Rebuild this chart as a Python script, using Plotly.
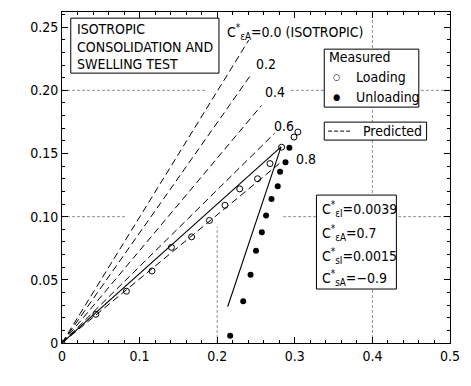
import plotly.graph_objects as go

# ---------------- data ----------------
load_x = [0.0, 0.0436, 0.083, 0.116, 0.141, 0.167, 0.190, 0.210, 0.229, 0.252, 0.268, 0.283, 0.299, 0.304]
load_y = [0.0, 0.0227, 0.041, 0.057, 0.0757, 0.084, 0.097, 0.109, 0.122, 0.130, 0.142, 0.155, 0.163, 0.167]

unload_x = [0.293, 0.288, 0.281, 0.278, 0.270, 0.263, 0.2575, 0.250, 0.243, 0.2335, 0.2167]
unload_y = [0.1545, 0.143, 0.1355, 0.124, 0.114, 0.101, 0.0876, 0.073, 0.054, 0.033, 0.0058]

# predicted (C*eA sensitivity) dashed lines: start at origin, end points
pred_labels = ["0.0", "0.2", "0.4", "0.6", "0.8"]
pred_end_x = [0.2406, 0.2446, 0.257, 0.274, 0.280]
pred_end_y = [0.2397, 0.2133, 0.188, 0.166, 0.142]

# predicted with chosen parameters (solid)
fit_load_x = [0.0, 0.2823]
fit_load_y = [0.0, 0.1553]
fit_unload_x = [0.2823, 0.2135]
fit_unload_y = [0.1553, 0.0287]

x_ticks = [0, 0.1, 0.2, 0.3, 0.4, 0.5]
x_ticktext = ["0", "0.1", "0.2", "0.3", "0.4", "0.5"]
y_ticks = [0, 0.05, 0.10, 0.15, 0.20, 0.25]
y_ticktext = ["0", "0.05", "0.10", "0.15", "0.20", "0.25"]

FONT = "DejaVu Sans Condensed, Liberation Sans Narrow, Arial Narrow, sans-serif"

# pixel -> data helpers (for decorations / text placement)
X0, XPX = 62.0, 796.0
Y0, YPX = 343.0, 1264.0
def dx(px):
    return (px - X0) / XPX
def dy(py):
    return (Y0 - py) / YPX

fig = go.Figure()

# dashed predicted lines
for i in range(len(pred_labels)):
    fig.add_trace(go.Scatter(x=[0, pred_end_x[i]], y=[0, pred_end_y[i]], mode="lines",
                             line=dict(color="black", width=1, dash="7px,4px"),
                             showlegend=False, hoverinfo="skip"))

# solid fitted lines
fig.add_trace(go.Scatter(x=fit_load_x, y=fit_load_y, mode="lines",
                         line=dict(color="black", width=1.1), showlegend=False))
fig.add_trace(go.Scatter(x=fit_unload_x, y=fit_unload_y, mode="lines",
                         line=dict(color="black", width=1.1), showlegend=False))

# measured
fig.add_trace(go.Scatter(x=load_x, y=load_y, mode="markers",
                         marker=dict(symbol="circle-open", size=6, color="black", line=dict(width=1)),
                         showlegend=False))
fig.add_trace(go.Scatter(x=unload_x, y=unload_y, mode="markers",
                         marker=dict(symbol="circle", size=6, color="black"),
                         showlegend=False))

shapes = []
# partial gray grid segments (as in the original figure)
grid_segs = [
    (0.0, 0.20, 0.185, 0.20), (0.295, 0.20, 0.5, 0.20),
    (0.0, 0.10, 0.083, 0.10), (0.285, 0.10, 0.5, 0.10),
    (0.2, 0.0, 0.2, 0.092), (0.4, 0.0, 0.4, 0.262),
]
for (a, b, c, d) in grid_segs:
    shapes.append(dict(type="line", xref="x", yref="y", x0=a, y0=b, x1=c, y1=d,
                       line=dict(color="#8f8f8f", width=1, dash="3px,2px"), layer="below"))

# boxes
def box(l, t, r, btm):
    shapes.append(dict(type="rect", xref="x", yref="y", x0=dx(l), x1=dx(r), y0=dy(btm), y1=dy(t),
                       line=dict(color="black", width=1), fillcolor="white", layer="above"))
box(71, 18, 223, 73)
box(331, 49, 428, 107)
box(331, 122, 436, 140)
box(323, 195, 405, 289)
# legend line sample for "Predicted"
shapes.append(dict(type="line", xref="x", yref="y", x0=dx(335), x1=dx(358), y0=dy(131), y1=dy(131),
                   line=dict(color="black", width=1, dash="4px,2px"), layer="above"))

ann = []
def text(px, py, s, size=14, xanchor="left", angle=0):
    ann.append(dict(x=dx(px), y=dy(py), xref="x", yref="y", text=s, showarrow=False,
                    xanchor=xanchor, yanchor="middle", textangle=angle,
                    font=dict(family=FONT, size=size, color="black")))

text(75, 29, "ISOTROPIC")
text(75, 47, "CONSOLIDATION AND")
text(75, 64, "SWELLING TEST")

text(229, 32, "C<sup>*</sup><sub>εA</sub>=0.0 (ISOTROPIC)", size=14)
label_px = [(259, 64), (268, 92), (277, 126), (300, 159)]
for (px, py), lab in zip(label_px, pred_labels[1:]):
    text(px, py, lab)

text(334, 57, "Measured")
text(338, 77, "○", size=9)
text(362, 77, "Loading")
text(338, 97, "●", size=9)
text(362, 97, "Unloading")
text(369, 131, "Predicted")

text(327, 209, "C<sup>*</sup><sub>εI</sub>=0.0039")
text(327, 233, "C<sup>*</sup><sub>εA</sub>=0.7")
text(327, 256, "C<sup>*</sup><sub>sI</sub>=0.0015")
text(327, 278, "C<sup>*</sup><sub>sA</sub>=−0.9")

# axis titles
ann.append(dict(x=dx(297), y=dy(375), xref="x", yref="y", text="RADIAL STRAIN,    ε<sub>r</sub> ,(%)",
                showarrow=False, xanchor="center", yanchor="middle",
                font=dict(family=FONT, size=14, color="black")))
ann.append(dict(x=dx(26), y=dy(150), xref="x", yref="y", text="AXIAL STRAIN,   ε<sub>a</sub> , (%)",
                showarrow=False, xanchor="center", yanchor="middle", textangle=-90,
                font=dict(family=FONT, size=14, color="black")))

fig.update_layout(
    width=471, height=386,
    margin=dict(l=62, r=11, t=12, b=43),
    paper_bgcolor="white", plot_bgcolor="white",
    shapes=shapes, annotations=ann,
    font=dict(family=FONT, size=14, color="black"),
    showlegend=False,
)
fig.update_xaxes(range=[0, 0.5], showgrid=False, zeroline=False, showline=True, linecolor="black",
                 linewidth=1, mirror="allticks", ticks="inside", ticklen=6, tickcolor="black",
                 tickvals=x_ticks, ticktext=x_ticktext, tickfont=dict(family=FONT, size=14),
                 minor=dict(dtick=0.02, ticks="inside", ticklen=3, tickcolor="black", showgrid=False))
fig.update_yaxes(range=[0, 0.262], showgrid=False, zeroline=False, showline=True, linecolor="black",
                 linewidth=1, mirror="allticks", ticks="inside", ticklen=6, tickcolor="black",
                 tickvals=y_ticks, ticktext=y_ticktext, tickfont=dict(family=FONT, size=14),
                 minor=dict(dtick=0.01, ticks="inside", ticklen=3, tickcolor="black", showgrid=False))

fig.write_html("out.html")
